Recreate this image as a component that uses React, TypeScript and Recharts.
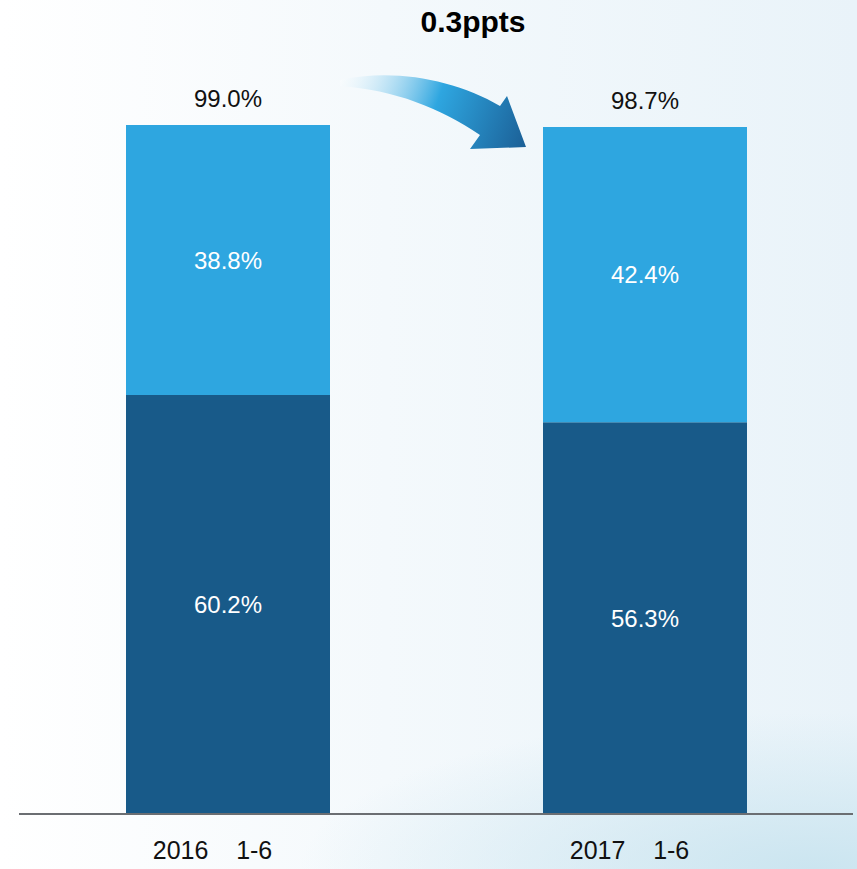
import { Bar, BarChart, LabelList, XAxis, YAxis } from 'recharts';

const categories = ['2016    1-6', '2017    1-6'];
const lowerShare = [60.2, 56.3];
const upperShare = [38.8, 42.4];
const totals = [99.0, 98.7];
const changeLabel = '0.3ppts';

const data = categories.map((name, i) => ({
  name,
  lower: lowerShare[i],
  upper: upperShare[i],
  total: totals[i],
}));

const FONT = '"Liberation Sans", Arial, sans-serif';
const DARK = '#185a89';
const LIGHT = '#2ea6e0';

const fmt = (v: unknown) => `${Number(v).toFixed(1)}%`;

interface TickProps {
  x?: number;
  y?: number;
  payload?: { value: string };
}

const CategoryTick = ({ x = 0, y = 0, payload }: TickProps) => (
  <text
    x={x - 15}
    y={y}
    dy="0.71em"
    textAnchor="middle"
    fontSize={25}
    fontFamily={FONT}
    fill="#111"
    style={{ whiteSpace: 'pre' }}
  >
    {payload?.value}
  </text>
);

export default function App() {
  return (
    <div
      style={{
        position: 'absolute',
        left: 0,
        top: 0,
        width: 857,
        height: 869,
        overflow: 'hidden',
        background:
          'radial-gradient(ellipse 60% 18% at 95% 100%, #cbe5f0 0%, rgba(203,229,240,0) 100%), linear-gradient(90deg, #ffffff 0%, #f4f9fc 45%, #e9f3f9 100%)',
      }}
    >
      <BarChart
        width={857}
        height={869}
        data={data}
        margin={{ top: 118, right: 4, bottom: 25, left: 19 }}
      >
        <XAxis
          dataKey="name"
          height={30}
          axisLine={{ stroke: '#6b6e72', strokeWidth: 2 }}
          tickLine={false}
          tickSize={0}
          tickMargin={27}
          tick={<CategoryTick />}
          interval={0}
        />
        <YAxis hide domain={[0, 100]} />
        <Bar dataKey="lower" stackId="a" fill={DARK} barSize={204} isAnimationActive={false}>
          <LabelList
            dataKey="lower"
            position="center"
            formatter={fmt}
            fill="#ffffff"
            fontSize={24}
            fontFamily={FONT}
          />
        </Bar>
        <Bar dataKey="upper" stackId="a" fill={LIGHT} barSize={204} isAnimationActive={false}>
          <LabelList
            dataKey="upper"
            position="center"
            formatter={fmt}
            fill="#ffffff"
            fontSize={24}
            fontFamily={FONT}
          />
          <LabelList
            dataKey="total"
            position="top"
            offset={18}
            formatter={fmt}
            fill="#111"
            fontSize={24}
            fontFamily={FONT}
          />
        </Bar>
      </BarChart>
      <svg
        width={857}
        height={869}
        style={{ position: 'absolute', left: 0, top: 0, pointerEvents: 'none' }}
      >
        <defs>
          <linearGradient id="arrowGrad" gradientUnits="userSpaceOnUse" x1={340} y1={80} x2={526} y2={148}>
            <stop offset="0" stopColor="#ffffff" stopOpacity={0.3} />
            <stop offset="0.5" stopColor="#2ea6e0" />
            <stop offset="1" stopColor="#1b5f96" />
          </linearGradient>
        </defs>
        <path
          d="M 340 80 C 395 68, 455 80, 500 106 L 507 96 L 526 147 L 470 149 L 480 135 C 440 108, 395 90, 340 86 Z"
          fill="url(#arrowGrad)"
        />
        <text
          x={473}
          y={32}
          textAnchor="middle"
          fontSize={30}
          fontWeight="bold"
          fontFamily={FONT}
          fill="#000"
        >
          {changeLabel}
        </text>
      </svg>
    </div>
  );
}
